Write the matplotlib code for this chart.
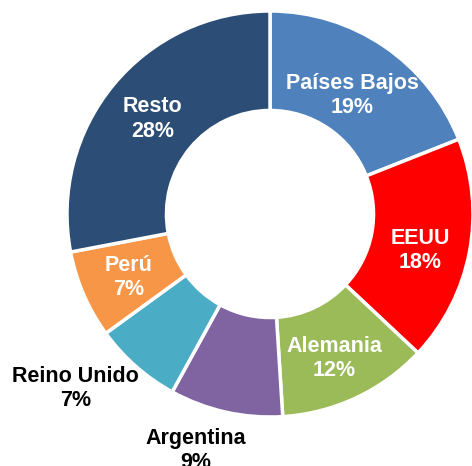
import numpy as np
import matplotlib
matplotlib.use("Agg")
import matplotlib.pyplot as plt

plt.rcParams["font.family"] = ["Liberation Sans", "DejaVu Sans"]

paises = ["Países Bajos", "EEUU", "Alemania", "Argentina", "Reino Unido", "Perú", "Resto"]
valores = [19, 18, 12, 9, 7, 7, 28]
colores = ["#4F81BD", "#FF0000", "#9BBB59", "#8064A2", "#4BACC6", "#F79646", "#2C4D75"]

# radio de la etiqueta (en unidades del radio exterior) y giro extra en grados
label_r = [0.72, 0.76, 0.77, 1.21, 1.28, 0.76, 0.75]
label_giro = [0, -2, -1, -5, -7, 0, 0]
label_color = ["white", "white", "white", "black", "black", "white", "white"]

fig = plt.figure(figsize=(4.72, 4.66), dpi=100)
ax = fig.add_axes([0, 0, 1, 1])

wedges, _ = ax.pie(valores, colors=colores, startangle=90, counterclock=False,
                   radius=1.0, wedgeprops=dict(width=0.49, edgecolor="white", linewidth=2.5))

for w, nombre, v, r, g, c in zip(wedges, paises, valores, label_r, label_giro, label_color):
    ang = np.deg2rad((w.theta1 + w.theta2) / 2 + g)
    ax.text(r * np.cos(ang), r * np.sin(ang) - 0.01, f"{nombre}\n{v}%", ha="center", va="center",
            fontsize=15.5, fontweight="bold", color=c, linespacing=1.2)

ax.set_aspect("auto")
ax.set_xlim(-270 / 203, 202 / 203)
ax.set_ylim(-252 / 203, 214 / 203)
ax.axis("off")

fig.savefig("out.png", dpi=100)
